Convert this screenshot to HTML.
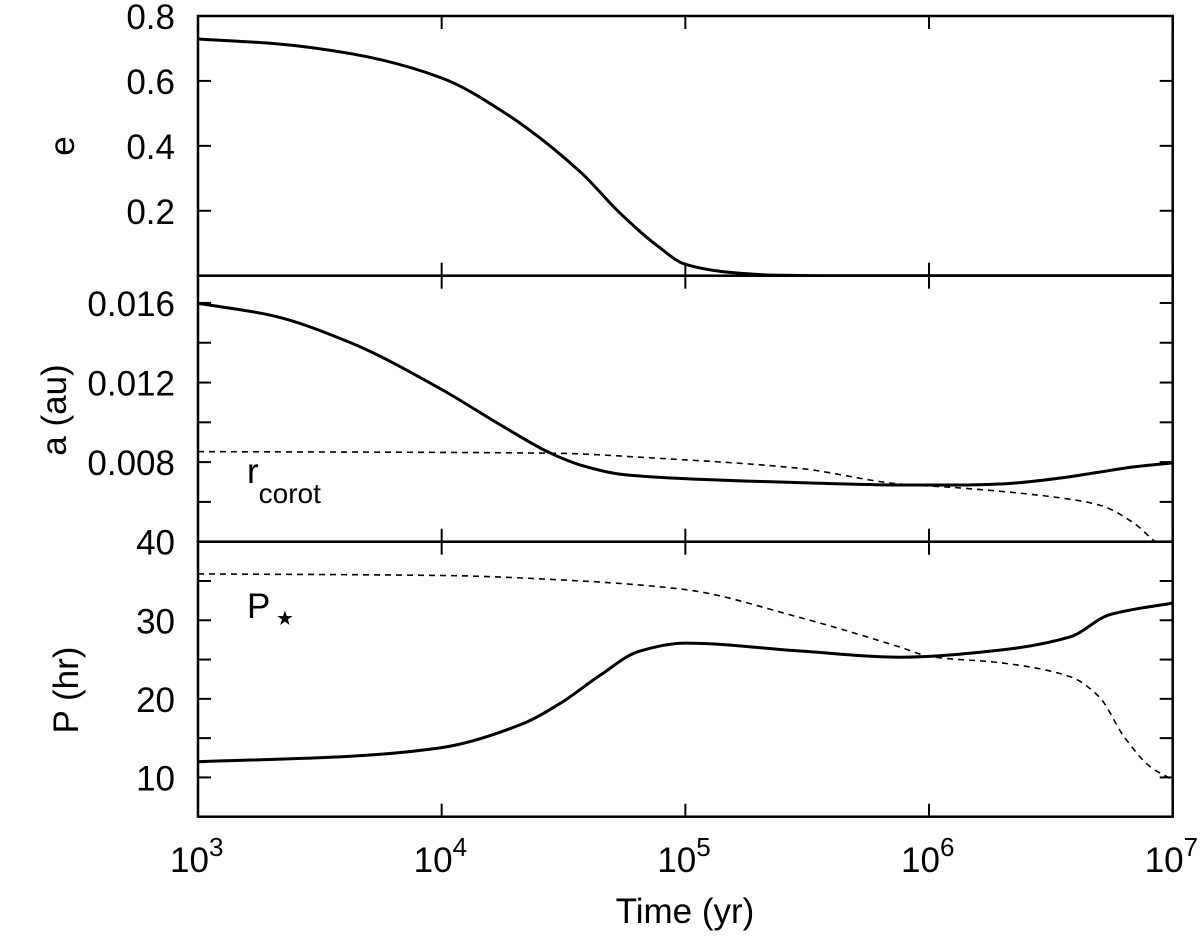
<!DOCTYPE html>
<html><head><meta charset="utf-8"><style>
body{margin:0;background:#fff}
svg{display:block;font-family:"Liberation Sans",sans-serif}
</style></head><body>
<svg id="chart" width="1200" height="936" viewBox="0 0 1200 936" xmlns="http://www.w3.org/2000/svg"></svg>
<script>
// x-axis: log10(time/yr)
const xTickExps = [3,4,5,6,7];
// panel 1: eccentricity
const eTime = [3,3.314,3.628,4,4.258,4.573,4.73,4.887,5,5.2,5.36,5.6,7];
const eVal  = [0.729,0.715,0.684,0.609,0.502,0.317,0.194,0.091,0.035,0.009,0.002,0,0];
const eTicks = [0.2,0.4,0.6];
const eLabels = ["0.2","0.4","0.6","0.8"];
// panel 2: semi-major axis and corotation radius
const aTime = [3,3.3,3.628,4,4.258,4.447,4.573,4.73,4.887,5.464,5.88,6.13,6.29,6.54,6.70,6.84,7];
const aVal  = [0.01598,0.01538,0.01399,0.01165,0.00975,0.00845,0.00784,0.0074,0.00724,0.00697,0.00685,0.00685,0.0069,0.0072,0.0075,0.00776,0.00796];
const rcTime = [3,4.45,4.89,5.46,5.88,6.13,6.54,6.70,6.84,6.92,7];
const rcVal  = [0.00853,0.00845,0.00819,0.0077,0.0069,0.0067,0.0062,0.00584,0.00494,0.00408,0.0033];
const aTicks = [0.006,0.008,0.010,0.012,0.014,0.016];
const aLabels = [0.008,0.012,0.016];
// panel 3: orbital period and stellar spin period
const pTime = [3,3.628,4,4.33,4.49,4.65,4.81,5,5.464,5.88,6.29,6.58,6.74,7];
const pVal  = [12.0,12.7,13.8,16.8,19.5,23.0,26.05,27.1,26.1,25.3,26.2,27.9,30.7,32.2];
const psTime = [3,4,4.573,5,5.464,5.88,6.0,6.29,6.58,6.70,6.80,6.91,7];
const psVal  = [35.9,35.7,35.0,33.9,30.4,26.6,25.4,24.6,22.8,20.2,15.2,11.3,9.7];
const pTicks = [10,15,20,25,30,35];
const pLabels = [10,20,30,40];

const svg = document.getElementById('chart');
const NS = 'http://www.w3.org/2000/svg';
const L = 198, R = 1172.7;
const X = v => L + (v - 3) / 4 * (R - L);
const panels = [
  {top:16, bot:275.7, min:0, max:0.8},
  {top:275.7, bot:541.7, min:0.004, max:0.01737},
  {top:541.7, bot:816.7, min:5, max:40}
];
function Yf(p){return v => p.bot - (v - p.min)/(p.max - p.min)*(p.bot - p.top);}
const Ye = Yf(panels[0]), Ya = Yf(panels[1]), Yp = Yf(panels[2]);

function mk(tag, attrs, parent){
  const el = document.createElementNS(NS, tag);
  for (const k in attrs) el.setAttribute(k, attrs[k]);
  (parent || svg).appendChild(el);
  return el;
}
// monotone cubic Hermite in x
function spline(xs, ys, fx, fy){
  const P = xs.map((x,i)=>[fx(x), fy(ys[i])]);
  const n = P.length, s = [], m = [];
  for (let i=0;i<n-1;i++) s.push((P[i+1][1]-P[i][1])/(P[i+1][0]-P[i][0]));
  for (let i=0;i<n;i++){
    if (i===0) m.push(s[0]);
    else if (i===n-1) m.push(s[n-2]);
    else if (s[i-1]*s[i] <= 0) m.push(0);
    else {
      const h0 = P[i][0]-P[i-1][0], h1 = P[i+1][0]-P[i][0];
      m.push(3*(h0+h1)/((2*h1+h0)/s[i-1] + (h1+2*h0)/s[i]));
    }
  }
  let d = 'M' + P[0][0].toFixed(1) + ',' + P[0][1].toFixed(1);
  for (let i=0;i<n-1;i++){
    const p1=P[i], p2=P[i+1], dx=(p2[0]-p1[0])/3;
    d += 'C'+(p1[0]+dx).toFixed(1)+','+(p1[1]+m[i]*dx).toFixed(1)+' '+(p2[0]-dx).toFixed(1)+','+(p2[1]-m[i+1]*dx).toFixed(1)+' '+p2[0].toFixed(1)+','+p2[1].toFixed(1);
  }
  return d;
}

const defs = mk('defs', {});
panels.forEach((p,i)=>{
  const cp = mk('clipPath', {id:'clip'+i}, defs);
  mk('rect', {x:L, y:p.top, width:R-L, height:p.bot-p.top}, cp);
});

const s1 = mk('path', {d:spline(eTime,eVal,X,Ye), fill:'none', stroke:'#000', 'stroke-width':3, 'clip-path':'url(#clip0)'});


const s2 = mk('path', {d:spline(rcTime,rcVal,X,Ya), fill:'none', stroke:'#000', 'stroke-width':1.6, 'stroke-dasharray':'6,5', 'clip-path':'url(#clip1)'});


const s3 = mk('path', {d:spline(aTime,aVal,X,Ya), fill:'none', stroke:'#000', 'stroke-width':3, 'clip-path':'url(#clip1)'});


const s4 = mk('path', {d:spline(psTime,psVal,X,Yp), fill:'none', stroke:'#000', 'stroke-width':1.6, 'stroke-dasharray':'6,5', 'clip-path':'url(#clip2)'});


const s5 = mk('path', {d:spline(pTime,pVal,X,Yp), fill:'none', stroke:'#000', 'stroke-width':3, 'clip-path':'url(#clip2)'});



panels.forEach((p,i)=>{
  const fr = mk('rect', {x:L, y:p.top, width:R-L, height:p.bot-p.top, fill:'none', stroke:'#000', 'stroke-width':2.5});
  
  
  xTickExps.forEach(e=>{
    const x = X(e);
    mk('line', {x1:x, x2:x, y1:p.bot, y2:p.bot-13, stroke:'#000', 'stroke-width':2});
    mk('line', {x1:x, x2:x, y1:p.top, y2:p.top+13, stroke:'#000', 'stroke-width':2});
  });
});
function yTicks(vals, Y){
  vals.forEach(v=>{
    const y = Y(v);
    mk('line', {x1:L, x2:L+13, y1:y, y2:y, stroke:'#000', 'stroke-width':2});
    mk('line', {x1:R, x2:R-13, y1:y, y2:y, stroke:'#000', 'stroke-width':2});
  });
}
yTicks(eTicks, Ye); yTicks(aTicks, Ya); yTicks(pTicks, Yp);

function text(str, x, y, name){
  const t = mk('text', {x:x, y:y, 'font-size':35, 'text-anchor':'end', fill:'#000'});
  t.textContent = str;
  
  
  return t;
}
eLabels.forEach(l=>text(l, 175, Ye(parseFloat(l))+13, 'e-tick-label'));
aLabels.forEach(l=>text(l.toFixed(3), 175, Ya(l)+13, 'a-tick-label'));
pLabels.forEach(l=>text(String(l), 175, Yp(l)+13, 'p-tick-label'));

xTickExps.forEach(e=>{
  const t = mk('text', {x:X(e)-28, y:872, 'font-size':35, 'text-anchor':'start', fill:'#000'});
  
  
  t.appendChild(document.createTextNode('10'));
  const sp = mk('tspan', {dy:-16, 'font-size':26}, t);
  sp.textContent = String(e);
});
</script>
<svg style="position:absolute;left:0;top:0" width="1200" height="936">
<text x="0" y="0" transform="translate(74,146) rotate(-90)" font-size="35" text-anchor="middle" font-family="Liberation Sans, sans-serif">e</text>
<text x="0" y="0" transform="translate(66,410) rotate(-90)" font-size="35" text-anchor="middle" font-family="Liberation Sans, sans-serif">a (au)</text>
<text x="0" y="0" transform="translate(78,690) rotate(-90)" font-size="35" text-anchor="middle" font-family="Liberation Sans, sans-serif">P (hr)</text>
<text x="685" y="923" font-size="35" text-anchor="middle" font-family="Liberation Sans, sans-serif">Time (yr)</text>
<text x="247" y="483" font-size="35" font-family="Liberation Sans, sans-serif">r<tspan dy="20" font-size="28">corot</tspan></text>
<text x="247" y="618" font-size="35" font-family="Liberation Sans, sans-serif">P<tspan dx="2" dy="13" font-size="40">⋆</tspan></text>
</svg>
</body></html>
